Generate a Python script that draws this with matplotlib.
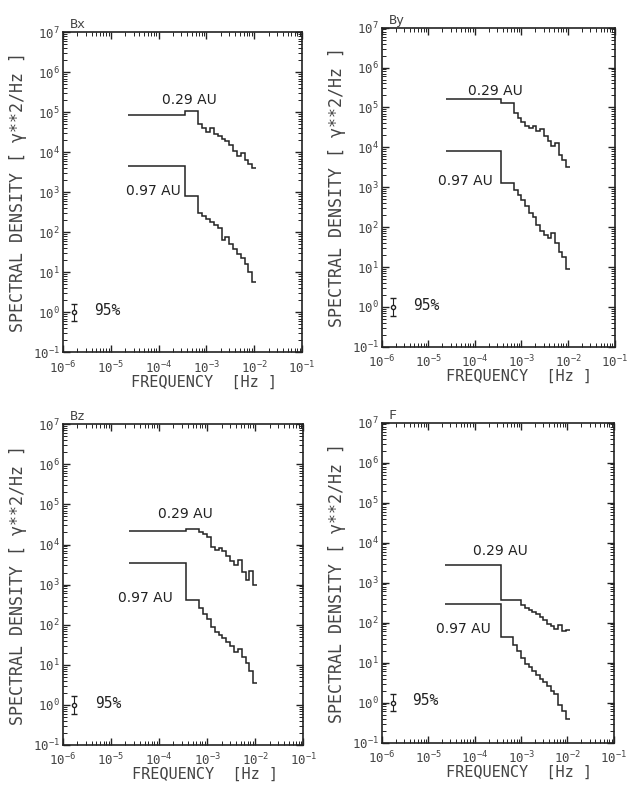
import numpy as np
import matplotlib.pyplot as plt
from matplotlib.ticker import LogLocator, NullFormatter

plt.rcParams['font.family'] = ['DejaVu Sans Mono', 'DejaVu Sans']
plt.rcParams['mathtext.default'] = 'regular'

# frequency bin edges of the spectral estimates (Hz)
freq_edges = [2.34e-5, 3.63e-4, 6.76e-4, 8.32e-4, 1.00e-3, 1.20e-3, 1.45e-3,
              1.74e-3, 2.09e-3, 2.51e-3, 3.02e-3, 3.63e-3, 4.37e-3, 5.25e-3,
              6.31e-3, 7.59e-3, 9.12e-3, 1.12e-2]

# spectral density (gamma^2/Hz) per bin, at 0.29 AU and 0.97 AU
bx_029 = [8.7e4, 1.07e5, 5.0e4, 4.0e4, 3.3e4, 4.0e4, 2.9e4, 2.6e4, 2.2e4,
          1.9e4, 1.5e4, 1.1e4, 8.3e3, 9.5e3, 6.3e3, 5.0e3, 4.0e3]
bx_097 = [4.5e3, 7.9e2, 3.0e2, 2.6e2, 2.2e2, 1.8e2, 1.5e2, 1.26e2, 63,
          76, 52, 38, 28, 23, 16, 10, 5.6]

by_029 = [1.6e5, 1.26e5, 7.2e4, 5.5e4, 4.3e4, 3.4e4, 3.0e4, 3.5e4, 2.5e4,
          2.8e4, 1.9e4, 1.45e4, 1.1e4, 1.26e4, 6.3e3, 4.8e3, 3.2e3]
by_097 = [7.9e3, 1.26e3, 8.3e2, 6.3e2, 4.8e2, 3.3e2, 2.3e2, 1.8e2, 1.12e2,
          79, 63, 52, 71, 40, 24, 18, 8.9]

bz_029 = [2.2e4, 2.4e4, 2.1e4, 1.8e4, 1.5e4, 8.9e3, 7.2e3, 8.3e3, 6.9e3,
          5.2e3, 3.8e3, 3.0e3, 4.0e3, 2.1e3, 1.3e3, 2.2e3, 1.0e3]
bz_097 = [3.4e3, 4.2e2, 2.6e2, 1.9e2, 1.4e2, 87, 66, 55, 46,
          38, 30, 21, 25, 15.5, 11.2, 7.1, 3.5]

f_029 = [2.7e3, 3.6e2, 3.6e2, 3.6e2, 2.8e2, 2.3e2, 2.1e2, 1.8e2, 1.66e2,
         1.38e2, 1.15e2, 95, 83, 71, 89, 60, 66]
f_097 = [2.9e2, 43, 28, 20, 13.2, 9.5, 7.6, 6.0, 4.8,
         3.8, 3.2, 2.6, 2.0, 1.66, 0.89, 0.60, 0.40]

components = ["Bx", "By", "Bz", "F"]
spectra_029 = [bx_029, by_029, bz_029, f_029]
spectra_097 = [bx_097, by_097, bz_097, f_097]

# decade ticks
x_ticks = [1e-6, 1e-5, 1e-4, 1e-3, 1e-2, 1e-1]
y_ticks = [1e-1, 1e0, 1e1, 1e2, 1e3, 1e4, 1e5, 1e6, 1e7]

# 95% confidence bar drawn near the left edge
ci_freq = 1.7e-6
ci_center = 1.0
ci_low = 0.6
ci_high = 1.65

# panel rectangles [left, bottom, width, height] in figure fraction
panel_rects = [
    [0.100, 0.554, 0.380, 0.405],
    [0.607, 0.561, 0.370, 0.404],
    [0.100, 0.057, 0.382, 0.406],
    [0.607, 0.060, 0.369, 0.405],
]
# (x, y) centres of the "0.29 AU" and "0.97 AU" labels
label_029 = [(4.4e-4, 2.0e5), (2.7e-4, 2.6e5), (3.6e-4, 5.9e4), (3.5e-4, 6.2e3)]
label_097 = [(7.8e-5, 1.1e3), (6.2e-5, 1.4e3), (5.3e-5, 4.7e2), (5.8e-5, 68)]

ink = "#222222"
grey = "#444444"

fig = plt.figure(figsize=(6.29, 7.90), dpi=100)
fig.patch.set_facecolor("white")

for i, name in enumerate(components):
    ax = fig.add_axes(panel_rects[i])
    ax.set_xscale("log")
    ax.set_yscale("log")
    ax.set_xlim(x_ticks[0], x_ticks[-1])
    ax.set_ylim(y_ticks[0], y_ticks[-1])

    ax.stairs(spectra_029[i], freq_edges, baseline=None, color=ink, lw=1.1)
    ax.stairs(spectra_097[i], freq_edges, baseline=None, color=ink, lw=1.1)

    ax.text(*label_029[i], "0.29 AU", family="DejaVu Sans", fontsize=10,
            ha="center", va="center", color=ink)
    ax.text(*label_097[i], "0.97 AU", family="DejaVu Sans", fontsize=10,
            ha="center", va="center", color=ink)

    ax.errorbar([ci_freq], [ci_center],
                yerr=[[ci_center - ci_low], [ci_high - ci_center]],
                fmt="o", ms=3, mfc="white", mec=ink, ecolor=ink,
                elinewidth=0.8, capsize=2)
    ax.text(4.6e-6, 1.1, "95%", fontsize=10.5, va="center", color=ink)

    ax.text(0.03, 1.003, name, transform=ax.transAxes, fontsize=9.5,
            va="bottom", ha="left", color=grey)

    ax.set_xticks(x_ticks)
    ax.set_yticks(y_ticks)
    ax.xaxis.set_minor_locator(LogLocator(base=10, subs=np.arange(2, 10), numticks=100))
    ax.yaxis.set_minor_locator(LogLocator(base=10, subs=np.arange(2, 10), numticks=100))
    ax.xaxis.set_minor_formatter(NullFormatter())
    ax.yaxis.set_minor_formatter(NullFormatter())

    ax.tick_params(which="both", direction="in", top=True, right=True,
                   colors=ink, labelcolor=grey, labelsize=9)
    ax.tick_params(axis="x", which="major", pad=5)
    ax.tick_params(axis="y", which="major", pad=2)
    ax.tick_params(which="major", length=5, width=1.0)
    ax.tick_params(which="minor", length=3, width=0.7)
    for spine in ax.spines.values():
        spine.set_color(ink)
        spine.set_linewidth(1.2)

    ax.set_xlabel("FREQUENCY  [Hz ]", fontsize=11, color=grey, labelpad=-1,
                  x=0.59)
    ax.set_ylabel("SPECTRAL DENSITY [ γ**2/Hz ]", fontsize=12, color=grey,
                  labelpad=4)

fig.savefig("out.png", dpi=100, facecolor="white")
